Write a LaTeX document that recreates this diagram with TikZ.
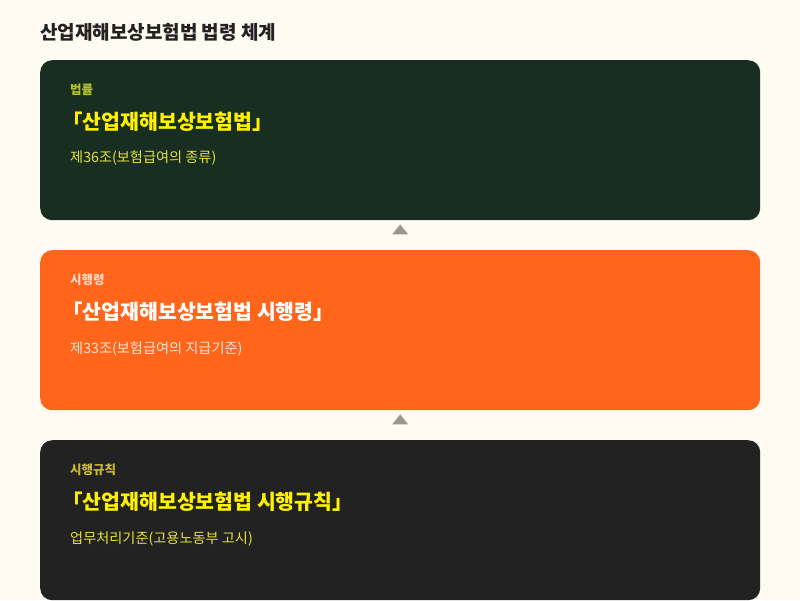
\documentclass[tikz,border=0pt]{standalone}
\usepackage{fontspec}
\usetikzlibrary{calc}
\setmainfont{Noto Sans CJK KR}
\definecolor{bg}{HTML}{FFFBF3}
\definecolor{boxA}{HTML}{172E21}
\definecolor{boxB}{HTML}{FF661C}
\definecolor{boxC}{HTML}{222222}
\definecolor{yel}{HTML}{FFF200}
\definecolor{olive}{HTML}{B5C22E}
\definecolor{subyel}{HTML}{E8E13A}
\definecolor{peach}{HTML}{FFD9C2}
\definecolor{peachsub}{HTML}{FFE6D6}
\definecolor{oliveC}{HTML}{C8BC2A}
\definecolor{arrowgray}{HTML}{999790}
\definecolor{head}{HTML}{222222}
\tikzset{
  x=1pt, y=-1pt,
  panel/.style={rounded corners=12pt, minimum width=720pt, minimum height=160pt, inner sep=0pt, anchor=north west},
  lbl/.style={anchor=west, inner sep=0pt, font=\fontsize{12.5}{14}\selectfont\bfseries},
  ttl/.style={anchor=west, inner sep=0pt, font=\fontsize{20.5}{24}\selectfont\bfseries},
  sub/.style={anchor=west, inner sep=0pt, font=\fontsize{14.2}{16}\selectfont},
  tri/.style={fill=arrowgray, draw=none}
}
\begin{document}
\begin{tikzpicture}
\fill[bg] (0,0) rectangle (800,600);
\useasboundingbox (0,0) rectangle (800,600);
\node[anchor=west, inner sep=0pt, text=head, font=\fontsize{19}{22}\selectfont\bfseries] (heading) at (40,32) {산업재해보상보험법 법령 체계};

\node[panel, fill=boxA] (p1) at (40,60) {};
\node[panel, fill=boxB] (p2) at (40,250) {};
\node[panel, fill=boxC] (p3) at (40,440) {};

\node[lbl, text=olive] (l1) at (70,90) {법률};
\node[ttl, text=yel] (t1) at (62,122) {「산업재해보상보험법」};
\node[sub, text=subyel] (s1) at (70,158) {제36조(보험급여의 종류)};

\node[lbl, text=peach] (l2) at (70,280) {시행령};
\node[ttl, text=white] (t2) at (62,312) {「산업재해보상보험법 시행령」};
\node[sub, text=peachsub] (s2) at (70,349) {제33조(보험급여의 지급기준)};

\node[lbl, text=oliveC] (l3) at (70,470) {시행규칙};
\node[ttl, text=yel] (t3) at (62,502) {「산업재해보상보험법 시행규칙」};
\node[sub, text=subyel] (s3) at (70,539) {업무처리기준(고용노동부 고시)};

\fill[tri] ($(p1.south)+(-8,14)$) -- ($(p1.south)+(0,4)$) -- ($(p1.south)+(8,14)$) -- cycle;
\fill[tri] ($(p2.south)+(-8,14)$) -- ($(p2.south)+(0,4)$) -- ($(p2.south)+(8,14)$) -- cycle;
\end{tikzpicture}
\end{document}
